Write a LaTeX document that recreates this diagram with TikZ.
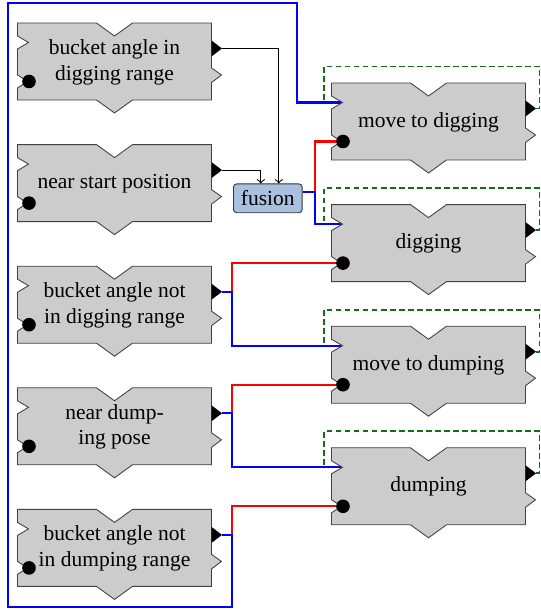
\documentclass[tikz,border=0pt]{standalone}
\usepackage{fontspec}
\setmainfont{Liberation Serif}
\usetikzlibrary{calc,backgrounds}

\definecolor{fusionblue}{RGB}{169,192,222}
\definecolor{loopgreen}{RGB}{20,110,20}

\tikzset{
  module/.pic={
    \filldraw[fill=black!20,draw=black!75] (0,0) -- (79,0) -- (97,13) -- (115,0) -- (194,0)
      -- (194,45) -- (204,52) -- (194,59.5) -- (194,77) -- (115,77) -- (97,90) -- (79,77)
      -- (0,77) -- (0,65) -- (10,58.5) -- (0,52) -- (0,26) -- (11,19.5) -- (0,13) -- cycle;
    \fill (11.5,58.5) circle (6.8);
    \fill (194,17.5) -- (204.5,25.5) -- (194,33.5) -- cycle;
    \node[align=center] (-text) at (97,39) {#1};
    \coordinate (-in) at (11,19.5);
    \coordinate (-act) at (11.5,58.5);
    \coordinate (-out) at (204.5,25.5);
    \coordinate (-ne) at (208,-16.5);
    \coordinate (-nw) at (-7.5,-16.5);
  },
  fusionbox/.style={draw=black!80,fill=fusionblue,rounded corners=1.5pt,
    minimum width=32pt,minimum height=13.4pt,inner sep=1pt},
  inhibit/.style={red,line width=0.95pt},
  excite/.style={blue,line width=0.95pt},
  selfloop/.style={loopgreen,line width=0.85pt,dash pattern=on 2.6pt off 1.6pt}
}

\begin{document}
\begin{tikzpicture}[x=0.4655pt,y=-0.4655pt]

\useasboundingbox (0,0) rectangle (541,612);

% perception
\pic (inRange) at (17.5,23) {module={bucket angle in\\digging range}};
\pic (nearStart) at (17.5,144.6) {module={near start position}};
\pic (notInDig) at (17.5,266.2) {module={bucket angle not\\in digging range}};
\pic (nearDump) at (17.5,387.8) {module={near dump-\\ing pose}};
\pic (notInDump) at (17.5,509.4) {module={bucket angle not\\in dumping range}};

% behaviours
\pic (mvDig) at (331.5,83) {module={move to digging}};
\pic (dig) at (331.5,204.6) {module={digging}};
\pic (mvDump) at (331.5,326.2) {module={move to dumping}};
\pic (dump) at (331.5,447.8) {module={dumping}};

\node[fusionbox] (fusion) at (267.8,198.3) {fusion};

\coordinate (loopSW) at (7.7,607);
\coordinate (loopNE) at (297,3.3);

\begin{pgfonlayer}{background}
\foreach \b in {mvDig,dig,mvDump,dump}
  \draw[selfloop] (\b-out) -| (\b-ne) -- (\b-nw) |- (\b-in);

\draw[inhibit] (fusion.11) -- ++(12,0) |- (mvDig-act);
\draw[excite] (fusion.11) -- ++(12,0) |- (dig-in);

\draw[inhibit] (notInDig-out) -- ++(10,0) |- (dig-act);
\draw[excite] (notInDig-out) -- ++(10,0) |- (mvDump-in);
\draw[inhibit] (nearDump-out) -- ++(10,0) |- (mvDump-act);
\draw[excite] (nearDump-out) -- ++(10,0) |- (dump-in);
\draw[inhibit] (notInDump-out) -- ++(10,0) |- (dump-act);
\draw[excite] (notInDump-out) -- ++(10,0) |- (loopSW) |- (loopNE) |- (mvDig-in);
\end{pgfonlayer}

\draw[->,line width=0.5pt] (inRange-out) -| ($(fusion.north)+(11,0)$);
\draw[->,line width=0.5pt] (nearStart-out) -| ($(fusion.north)+(-7,0)$);

\end{tikzpicture}
\end{document}
